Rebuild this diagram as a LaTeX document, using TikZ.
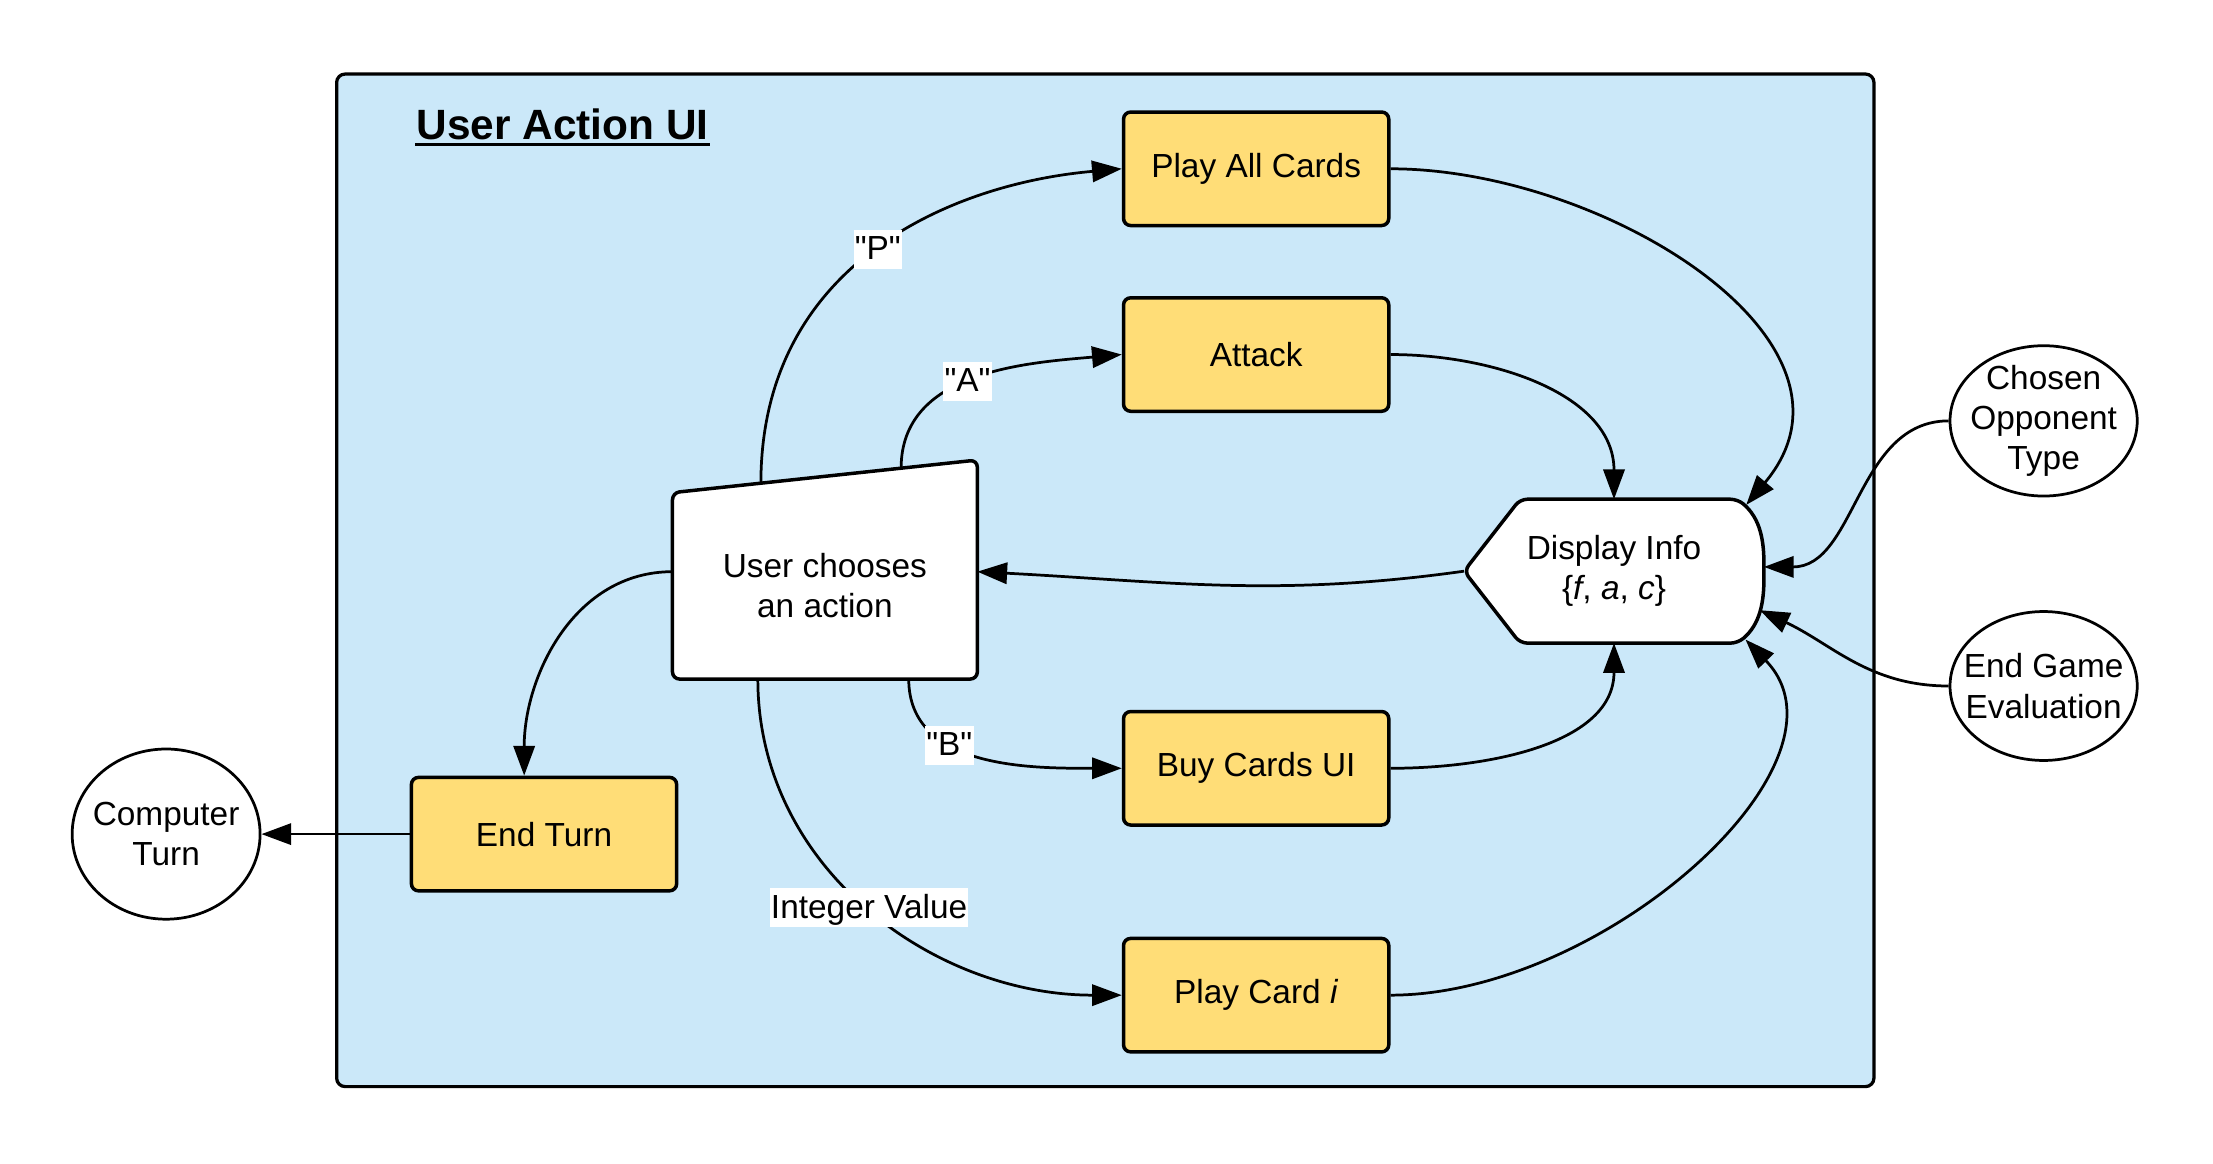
\documentclass[tikz,border=0pt]{standalone}
\usepackage{fontspec}
\setmainfont{Liberation Sans}
\usepackage{tikz}
\usetikzlibrary{positioning,arrows,calc,arrows.meta,shapes.geometric,backgrounds}
\definecolor{uiblue}{HTML}{CBE8F9}
\definecolor{cardyellow}{HTML}{FFDD77}
\newcommand{\flowfont}{\fontsize{13.4}{16.1}\selectfont}
\tikzset{
	flow/.style={>={Triangle[length=0.42cm,width=0.3cm]},x=0.02cm,y=0.02cm,
		line width=1.1pt},
	card/.style={rectangle,draw,rounded corners=0.1cm,line width=1.4pt,fill=cardyellow,
		minimum width=3.74cm,minimum height=1.6cm,font=\flowfont},
	plain/.style={rectangle,inner sep=0pt,align=center,font=\flowfont},
	terminal/.style={ellipse,draw,line width=1.1pt,fill=white,inner sep=-0.5cm,
		align=center,font=\flowfont},
	choice/.style={fill=white,inner xsep=0.5pt,inner ysep=0pt,text height=0.42cm,
		text depth=0.13cm,font=\flowfont},
	outline/.style={draw,line width=1.4pt,fill=white,rounded corners=0.1cm}
}

\begin{document}
\begin{tikzpicture}[flow]
	\useasboundingbox (0,0) rectangle (1560,820);
	
	\node[card] (pa) at (885.5,701) {Play All Cards};
	\node[card] (at) [below=0.97cm of pa] {Attack};
	\node[card] (bc) at (885.5,278.4) {Buy Cards UI};
	\node[card] (pc) [below=1.55cm of bc] {Play Card \textit{i}};
	\node[card] (et) at (383.5,232) {End Turn};
	\node[terminal,minimum width=2.65cm,minimum height=2.4cm] (ct) [left=2.09cm of et] {Computer\\Turn};
	\node[plain,minimum width=4.26cm,minimum height=2.59cm] (uc) at (581.5,407) {User chooses\\an action};
	\node[plain,minimum width=4.19cm,minimum height=1.99cm] (di) at (1137.75,417.35) {Display Info\\\{\textit{f}, \textit{a}, \textit{c}\}};
	\node[terminal,minimum width=2.64cm,minimum height=2.12cm] (co) at (1440.6,523.3) {Chosen\\Opponent\\Type};
	\node[terminal,minimum width=2.64cm,minimum height=2.1cm] (eg) [below=1.59cm of co] {End Game\\Evaluation};
	\node[anchor=base,inner sep=0pt,font=\fontsize{17}{20}\selectfont\bfseries] (ti) at (396.5,721.3) {User Action UI};
	\draw[line width=1.3pt] ([yshift=-0.065cm]ti.base west) -- ([yshift=-0.065cm]ti.base east);
	
	\coordinate (uctr) at ([yshift=0.46cm]uc.north east);
	\coordinate (pst) at ($(uc.north west)!0.29!(uctr)$);
	\coordinate (ast) at ($(uc.north west)!0.75!(uctr)$);
	\coordinate (bst) at ($(uc.south west)!0.775!(uc.south east)$);
	\coordinate (ist) at ($(uc.south west)!0.28!(uc.south east)$);
	
	\begin{scope}[on background layer]
		\draw[line width=1.3pt,fill=uiblue,rounded corners=0.12cm] (237.3,54) rectangle (1321,767.8);
		\path[outline] (uc.south west) -- (uc.south east) -- (uctr) -- (uc.north west) -- cycle;
		\path[outline] (di.west) -- ([xshift=0.79cm]di.north west) -- ([xshift=-0.37cm]di.north east)
			to[out=-40,in=90] (di.east) to[out=-90,in=40] ([xshift=-0.37cm]di.south east)
			-- ([xshift=0.79cm]di.south west) -- cycle;
	\end{scope}
	
	\path[->] (pst) edge[out=90,in=185,out distance=3.1cm,in distance=2.4cm] node[choice,pos=0.5]{\textquotedbl P\textquotedbl} (pa.west);
	\path[->] (ast) edge[out=90,in=185] node[choice,pos=0.47]{\textquotedbl A\textquotedbl} (at.west);
	\path[->] (bst) edge[out=-90,in=180] node[choice,pos=0.36]{\textquotedbl B\textquotedbl} (bc.west);
	\path[->] (ist) edge[out=-90,in=180,distance=2.66cm] node[choice]{Integer Value} (pc.west);
	\path[->] ([yshift=0.2cm]uc.west) edge[out=180,in=90] ([xshift=-0.28cm]et.north);
	\path[->] (et) edge (ct);
	\path[->] (di.west) edge[out=188,in=-3] ([yshift=0.2cm]uc.east);
	
	\path[->] (pa.east) edge[out=0,in=50,out distance=3cm,in distance=3cm] ([xshift=-0.25cm,yshift=-0.08cm]di.north east);
	\path[->] (at.east) edge[out=0,in=90] (di.north);
	\path[->] (bc.east) edge[out=0,in=-90] (di.south);
	\path[->] (pc.east) edge[out=0,in=-46,out distance=3cm,in distance=2.4cm] ([xshift=-0.26cm,yshift=0.05cm]di.south east);
	\path[->] (co.west) edge[out=180,in=0] ([yshift=0.06cm]di.east);
	\path[->] (eg.west) edge[out=180,in=-25] ([xshift=-0.06cm,yshift=-0.55cm]di.east);
\end{tikzpicture}
\end{document}
